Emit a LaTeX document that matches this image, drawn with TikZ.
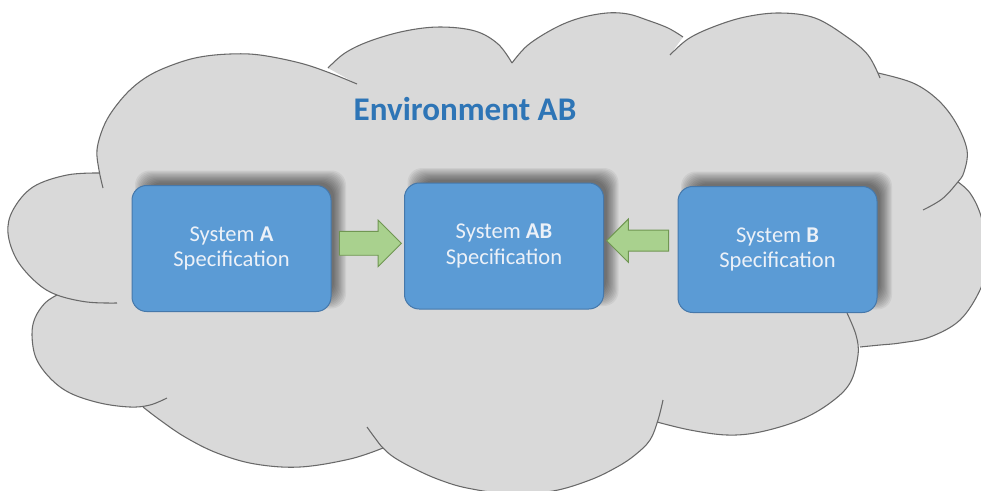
\documentclass[tikz,border=0pt]{standalone}
\usepackage{fontspec}
\setmainfont{Carlito}
\usetikzlibrary{shapes.arrows}

\definecolor{cloudfill}{RGB}{217,217,217}
\definecolor{cloudline}{RGB}{105,105,105}
\definecolor{boxfill}{RGB}{91,155,213}
\definecolor{boxline}{RGB}{70,120,170}
\definecolor{boxtext}{RGB}{236,241,248}
\definecolor{titleblue}{RGB}{46,117,182}
\definecolor{arrowfill}{RGB}{169,209,142}
\definecolor{arrowline}{RGB}{112,150,82}

% lobes of the environment cloud, in pixel units
\def\lobeA{(103,188) (99,170) (97,150) (103,128) (113,110) (130,90) (150,75) (175,64) (200,57) (230,54) (260,55) (300,63) (330,73) (357,84)}
\def\lobeB{(328,68) (345,53) (370,41) (405,31) (440,27) (475,31) (498,44) (512,63)}
\def\lobeC{(512,63) (528,45) (555,28) (580,18) (607,13) (628,14) (647,20) (668,28) (683,37)}
\def\lobeD{(670,55) (688,39) (713,27) (745,17) (780,13) (815,18) (847,37) (868,55) (880,78)}
\def\lobeE{(878,73) (913,83) (938,100) (956,123) (967,150) (964,172) (957,183) (942,199) (923,210)}
\def\lobeF{(958,182) (970,193) (980,213) (986,240) (986,265) (980,290) (960,320) (930,337) (900,343) (880,345) (860,347)}
\def\lobeG{(847,313) (856,335) (858,355) (850,383) (830,403) (800,420) (760,432) (727,435) (690,430) (657,422)}
\def\lobeH{(663,400) (658,420) (650,440) (635,455) (617,467) (590,480) (553,491) (510,494) (467,488) (440,480) (417,470) (395,458) (383,448) (375,438) (367,427)}
\def\lobeI{(383,448) (350,459) (300,467) (255,464) (217,453) (185,437) (160,420) (143,407)}
\def\lobeJ{(167,398) (150,405) (130,407) (100,403) (70,393) (50,378) (36,358) (32,335) (35,318) (45,303) (57,295)}
\def\lobeK{(117,303) (87,302) (57,295) (37,283) (17,260) (8,233) (13,210) (33,187) (67,175) (100,173)}

% soft shadow behind a 199x126 box centred at (#1,#2), shifted up and right
\newcommand\softshadow[2]{%
  \foreach \d in {-6,-4.8,...,6.1}
    \fill[black, opacity=0.055, rounded corners=11pt]
      (#1+9-99.5-\d, #2-9-63-\d) rectangle (#1+9+99.5+\d, #2-9+63+\d);}

\tikzset{
  lobe/.style={draw=cloudline, line width=0.8pt},
  sysbox/.style={
    draw=boxline, line width=0.75pt, fill=boxfill, rounded corners=11pt,
    minimum width=199*0.75pt, minimum height=126*0.75pt,
    text=boxtext, align=center,
    font=\fontsize{16.9pt}{19pt}\selectfont},
  greenarrow/.style={
    single arrow, draw=arrowline, line width=0.7pt, fill=arrowfill,
    inner xsep=0pt, inner ysep=8.6pt,
    minimum height=62*0.75pt, minimum width=45*0.75pt,
    single arrow head extend=8.4pt, anchor=tip},
}

\begin{document}
\begin{tikzpicture}[x=0.75pt, y=-0.75pt]
\useasboundingbox (0,0) rectangle (981,490);
\fill[white] (0,0) rectangle (981,490);
\begin{scope}
\clip (0,0) rectangle (981,490);
% cloud body
\fill[cloudfill]
  plot[smooth, tension=0.6] coordinates {\lobeA}
  -- plot[smooth, tension=0.6] coordinates {\lobeB}
  -- plot[smooth, tension=0.6] coordinates {\lobeC}
  -- plot[smooth, tension=0.6] coordinates {\lobeD}
  -- plot[smooth, tension=0.6] coordinates {\lobeE}
  -- plot[smooth, tension=0.6] coordinates {\lobeF}
  -- plot[smooth, tension=0.6] coordinates {\lobeG}
  -- plot[smooth, tension=0.6] coordinates {\lobeH}
  -- plot[smooth, tension=0.6] coordinates {\lobeI}
  -- plot[smooth, tension=0.6] coordinates {\lobeJ}
  -- plot[smooth, tension=0.6] coordinates {\lobeK}
  -- cycle;
% cloud outline
\foreach \l in {\lobeA,\lobeB,\lobeC,\lobeD,\lobeE,\lobeF,\lobeG,\lobeH,\lobeI,\lobeJ,\lobeK}
  \draw[lobe] plot[smooth, tension=0.6] coordinates {\l};
\end{scope}

% title
\node[anchor=base, text=titleblue, font=\fontsize{24.8pt}{28pt}\selectfont\bfseries]
  (title) at (465,120) {Environment AB};

% shadows, then the system boxes on top
\softshadow{231.5}{248.5}
\softshadow{504}{246}
\softshadow{777.5}{249.5}
\node[sysbox] (A)  at (231.5,248.5) {System \textbf{A}\\Specification};
\node[sysbox] (AB) at (504,246)     {System \textbf{AB}\\Specification};
\node[sysbox] (B)  at (777.5,249.5) {System \textbf{B}\\Specification};

% block arrows pointing into the combined system
\node[greenarrow] (AtoAB) at ([xshift=-1.5pt,yshift=2pt]AB.west) {};
\node[greenarrow, shape border rotate=180, minimum width=42*0.75pt,
      inner ysep=7.5pt] (BtoAB) at ([xshift=1.5pt,yshift=4pt]AB.east) {};
\end{tikzpicture}
\end{document}
